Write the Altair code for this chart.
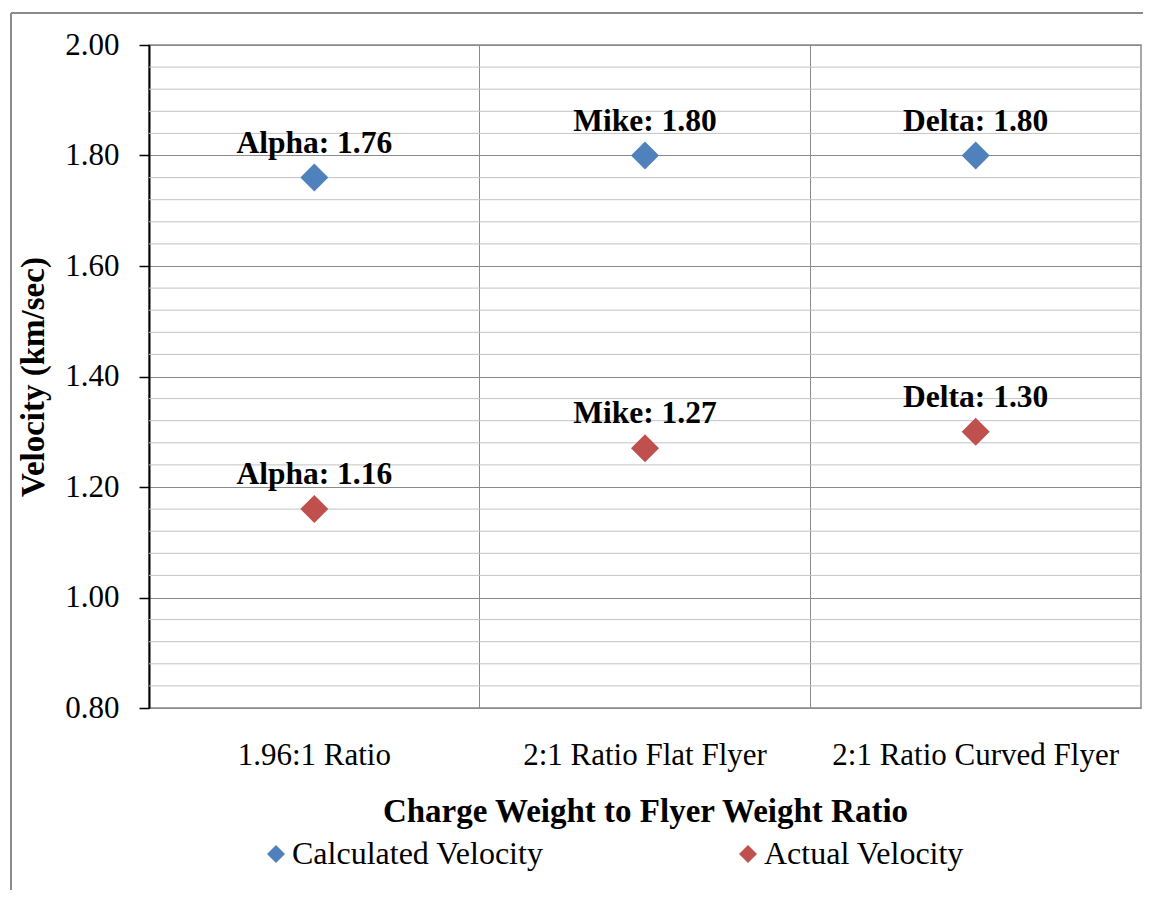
import altair as alt
import pandas as pd
import numpy as np

categories = ["1.96:1 Ratio", "2:1 Ratio Flat Flyer", "2:1 Ratio Curved Flyer"]
test_names = ["Alpha", "Mike", "Delta"]
calculated = [1.76, 1.80, 1.80]
actual = [1.16, 1.27, 1.30]
series_names = ["Calculated Velocity", "Actual Velocity"]
series_colors = ["#4F81BD", "#C0504D"]
major_ticks = [0.80, 1.00, 1.20, 1.40, 1.60, 1.80, 2.00]
minor_ticks = [round(v, 2) for v in np.arange(0.80, 2.0001, 0.04) if round(v, 2) not in major_ticks]

rows = []
for cat, nm, c, a in zip(categories, test_names, calculated, actual):
    rows.append({"cat": cat, "series": series_names[0], "value": c, "label": f"{nm}: {c:.2f}"})
    rows.append({"cat": cat, "series": series_names[1], "value": a, "label": f"{nm}: {a:.2f}"})
df = pd.DataFrame(rows)
minor_df = pd.DataFrame({"v": minor_ticks})

FONT = "Liberation Serif"
GRID_MAJOR = "#8a8a8a"
GRID_MINOR = "#c3c3c3"

yscale = alt.Scale(domain=[0.8, 2.0], nice=False, zero=False)
xscale = alt.Scale(type="band", domain=categories, paddingInner=0, paddingOuter=0)

x_axis = alt.Axis(
    title="Charge Weight to Flyer Weight Ratio", labelAngle=0, domain=False,
    ticks=False, tickSize=0, grid=True, gridColor=GRID_MAJOR, gridWidth=1,
    bandPosition=0, labelFont=FONT, labelFontSize=31, labelColor="black",
    labelPadding=32, labelLimit=500, titleFont=FONT, titleFontSize=33,
    titleFontWeight="bold", titleColor="black", titlePadding=25,
)
y_axis = alt.Axis(
    title="Velocity (km/sec)", values=major_ticks, format=".2f",
    grid=True, gridColor=GRID_MAJOR, gridWidth=1,
    domainColor="black", domainWidth=2, tickColor="black", tickWidth=1.5,
    tickSize=10, labelPadding=20, labelFont=FONT, labelFontSize=31,
    labelColor="black", titleFont=FONT, titleFontSize=33, titleFontWeight="bold",
    titleColor="black", titlePadding=14,
)

minor = alt.Chart(minor_df).mark_rule(color=GRID_MINOR, strokeWidth=1).encode(
    y=alt.Y("v:Q", scale=yscale, axis=y_axis)
)

color_enc = alt.Color(
    "series:N",
    scale=alt.Scale(domain=series_names, range=series_colors),
    legend=alt.Legend(
        title=None, orient="none", direction="horizontal", legendX=111, legendY=793,
        symbolType="diamond", symbolSize=324, symbolStrokeWidth=0, labelFont=FONT,
        labelFontSize=32, labelColor="black", labelOffset=0, columnPadding=188,
        labelLimit=500,
    ),
)

points = alt.Chart(df).mark_point(shape="diamond", filled=True, size=784, opacity=1).encode(
    x=alt.X("cat:N", scale=xscale, sort=categories, axis=x_axis),
    y=alt.Y("value:Q", scale=yscale, axis=y_axis),
    color=color_enc,
)

labels = alt.Chart(df).mark_text(
    font=FONT, fontSize=31.5, fontWeight="bold", color="black", baseline="alphabetic", dy=-25
).encode(
    x=alt.X("cat:N", scale=xscale, sort=categories, axis=x_axis),
    y=alt.Y("value:Q", scale=yscale, axis=y_axis),
    text="label:N",
)

border_left = alt.Chart(df).mark_rule(color="#8a8a8a", strokeWidth=1.5).encode(
    x=alt.value(-138), y=alt.value(-32), y2=alt.value(845)
)
border_top = alt.Chart(df).mark_rule(color="#8a8a8a", strokeWidth=1.5).encode(
    x=alt.value(-138), x2=alt.value(994), y=alt.value(-32)
)

chart = alt.layer(minor, points, labels, border_left, border_top).properties(
    width=992, height=663,
    padding={"left": 2, "top": 4, "right": 0, "bottom": 0},
    background="white",
).configure_view(
    stroke=GRID_MAJOR, strokeWidth=1.5
).configure_axis(
    labelFont=FONT, titleFont=FONT
).configure_text(
    font=FONT
).configure_legend(
    labelFont=FONT
)

chart.save("out.html", embed_options={"renderer": "svg", "actions": False})
